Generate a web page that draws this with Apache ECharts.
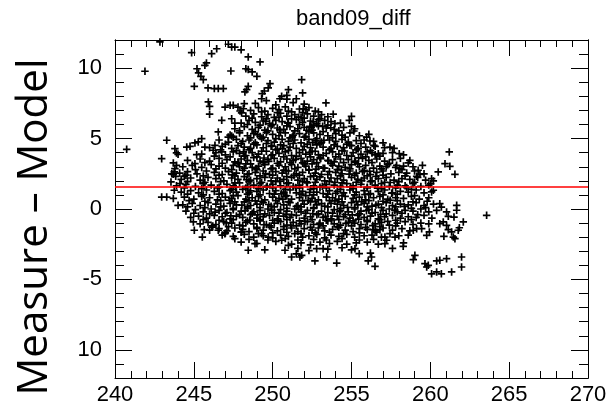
<!DOCTYPE html>
<html><head><meta charset="utf-8">
<script src="https://cdn.jsdelivr.net/npm/echarts@6/dist/echarts.min.js"></script>
<style>html,body{margin:0;padding:0;background:#fff}#c{width:613px;height:407px}</style>
</head><body><div id="c"></div>
<script>
const titleText = 'band09_diff';
const yName = 'Measure \u2013 Model';
const yTickValues = [-10, -5, 0, 5, 10];
const yTickLabels = ['10', '-5', '0', '5', '10'];
const refLine = 1.58;

const outliersUpperLeft = [[241.9,9.78],[240.74,4.24],[242.85,11.86],[244.86,11.1],[246.13,11.03],[246.45,11.38],[247.19,11.7],[247.4,11.5],[247.6,11.5],[248.0,11.3],[248.45,10.8],[249.2,10.44],[245.8,10.37],[245.7,10.2],[245.2,9.96],[245.3,9.66],[245.45,9.42],[245.6,9.18],[247.35,9.8],[248.3,9.96],[248.45,9.9],[248.7,9.73],[249.0,9.42],[251.84,9.18],[245.03,8.71],[245.9,8.6],[246.3,8.55],[246.55,8.55],[246.87,8.55],[248.45,8.71],[248.35,8.47],[248.24,8.31],[249.83,8.9],[249.72,8.6],[249.47,8.38],[249.34,8.19],[249.3,7.83],[251.0,8.47],[250.9,8.07],[250.57,8.0],[250.46,7.83],[251.5,7.83],[245.92,7.6],[246.0,7.29],[246.0,6.73],[246.98,7.24],[247.3,7.36],[247.5,7.36],[247.8,7.24],[247.93,6.96],[248.03,6.82],[248.2,7.48],[248.14,7.12],[246.77,6.3],[247.4,6.41],[247.6,6.1],[246.55,5.47],[247.18,5.11],[247.4,5.18],[243.28,4.88],[245.5,4.99],[245.28,4.76],[245.07,4.69],[245.7,4.4],[244.55,4.4],[244.76,4.45],[243.8,4.28],[243.9,3.98],[244.0,3.88],[242.96,3.57],[245.18,3.86],[245.07,3.22],[246.34,4.52],[246.23,4.17],[246.77,4.05],[243.7,3.27],[243.9,3.1],[243.8,2.86],[243.76,2.63],[243.6,2.5],[243.7,2.46],[243.85,2.32],[244.4,2.32],[243.55,1.92],[244.12,1.8],[243.76,1.33],[242.96,0.85],[243.28,0.85],[244.0,0.26]];

const outliersRight = [[251.9,8.24],[251.94,7.12],[252.11,7.05],[253.38,7.53],[252.9,6.89],[253.0,6.41],[253.17,5.87],[253.84,6.73],[253.95,6.06],[253.68,5.77],[255.0,6.58],[254.86,6.3],[255.0,5.87],[255.15,5.54],[252.57,6.18],[252.36,5.87],[252.16,5.59],[254.9,4.52],[255.43,4.28],[255.96,5.11],[256.17,4.83],[256.42,4.52],[256.7,3.93],[257.44,4.4],[258.03,3.93],[258.6,3.27],[257.86,3.1],[258.07,2.86],[261.2,4.05],[260.93,3.22],[261.24,3.03],[261.56,2.46],[260.5,2.63],[259.23,2.75],[259.34,2.46],[259.13,2.32],[260.08,2.15],[260.19,1.99],[260.02,1.8],[260.08,1.21],[260.19,1.33],[260.6,0.38],[260.7,0.14],[261.67,0.26],[261.67,-0.09],[261.03,-0.21],[261.14,-0.52],[261.5,-0.57],[262.09,-0.92],[261.84,-1.33],[261.77,-1.51],[263.57,-0.45],[260.82,-0.92],[260.6,-1.04],[261.03,-1.16],[261.14,-1.47],[261.35,-1.63],[261.46,-1.99],[261.56,-2.11],[260.86,-1.94],[259.77,-1.87],[259.94,-1.63],[258.92,-1.51],[259.13,-1.4],[259.45,-1.4],[257.76,-1.99],[257.44,-1.75],[257.23,-2.22],[257.12,-2.46],[258.28,-2.65],[259.02,-3.29],[258.92,-3.6],[259.66,-3.88],[259.87,-4.0],[259.77,-4.12],[260.4,-3.69],[260.6,-3.64],[261.03,-3.53],[261.98,-3.41],[261.98,-4.12],[260.08,-4.6],[260.4,-4.47],[260.7,-4.6],[261.35,-4.47],[256.2,-3.13],[256.27,-3.41],[256.49,-4.07],[256.06,-3.69],[255.49,-3.17],[255.22,-2.82],[254.06,-3.84],[253.43,-3.41],[252.68,-3.69],[252.79,-2.82],[253.2,-2.82],[251.84,-3.29],[257.12,-1.99],[256.8,-1.47],[256.38,-1.47]];

const outliersLowerLeft = [[244.97,-0.92],[245.03,-1.51],[245.54,-1.99],[245.66,-1.47],[246.13,-1.28],[246.55,-1.51],[246.97,-1.75],[247.6,-2.11],[248.03,-1.63],[248.45,-2.93],[248.88,-2.46],[249.3,-1.75],[249.72,-1.99],[250.57,-2.22],[251.0,-2.58],[251.2,-3.41],[251.5,-3.18],[251.73,-3.41],[250.78,-2.93]];

const coreUpper = [
[248.9,7.5],[249.6,7.7],[250.2,7.4],[250.9,7.8],[251.3,7.55],[252.0,7.45],
[248.6,7.0],[249.1,7.2],[249.5,6.95],[250.0,7.15],[250.4,7.05],[250.8,7.25],[251.2,6.9],[251.7,7.1],[252.3,7.2],[252.7,6.95],
[248.3,6.6],[248.8,6.75],[249.3,6.55],[249.7,6.7],[250.1,6.5],[250.5,6.8],[250.9,6.6],[251.4,6.7],[251.8,6.5],[252.2,6.75],[252.6,6.6],[253.1,6.7],[253.5,6.55],
[248.0,6.1],[248.5,6.3],[248.9,6.15],[249.4,6.25],[249.8,6.05],[250.2,6.3],[250.6,6.2],[251.0,6.1],[251.5,6.35],[251.9,6.15],[252.4,6.25],[252.8,6.05],[253.3,6.3],[253.7,6.2],[254.3,6.1],
[247.6,5.7],[248.2,5.85],[248.7,5.65],[249.1,5.8],[249.5,5.6],[249.9,5.9],[250.3,5.75],[250.7,5.65],[251.1,5.85],[251.6,5.7],[252.0,5.8],[252.5,5.6],[252.9,5.9],[253.4,5.75],[253.9,5.65],[254.5,5.8],[255.2,5.7],
[247.3,5.25],[247.9,5.4],[248.4,5.2],[248.8,5.35],[249.2,5.15],[249.6,5.45],[250.0,5.3],[250.4,5.2],[250.8,5.4],[251.3,5.25],[251.7,5.35],[252.1,5.15],[252.6,5.4],[253.0,5.3],[253.5,5.2],[254.0,5.35],[254.4,5.25],[254.9,5.4],[255.5,5.2],[256.1,5.3],
[246.6,4.9],[247.2,4.75],[247.7,4.95],[248.1,4.8],[248.5,4.9],[248.9,4.7],[249.3,5.0],[249.7,4.85],[250.1,4.75],[250.6,4.95],[251.0,4.8],[251.4,4.9],[251.8,4.7],[252.3,4.95],[252.7,4.85],[253.1,4.75],[253.6,4.9],[254.0,4.8],[254.4,4.95],[254.8,4.75],[255.3,4.85],[255.8,4.9],[256.4,4.8],[257.0,4.7],
[246.0,4.35],[246.8,4.45],[247.4,4.3],[247.8,4.5],[248.2,4.4],[248.6,4.3],[249.0,4.55],[249.4,4.35],[249.9,4.45],[250.3,4.25],[250.7,4.5],[251.1,4.4],[251.5,4.3],[252.0,4.45],[252.4,4.35],[252.8,4.55],[253.2,4.4],[253.7,4.3],[254.1,4.45],[254.5,4.35],[255.0,4.5],[255.4,4.3],[255.9,4.4],[256.5,4.45],[257.1,4.35],[257.7,4.3],
[245.5,3.9],[246.4,4.0],[247.0,3.85],[247.5,4.05],[247.9,3.95],[248.3,3.8],[248.7,4.0],[249.1,3.9],[249.6,4.1],[250.0,3.85],[250.4,3.95],[250.8,4.05],[251.2,3.8],[251.7,4.0],[252.1,3.9],[252.5,4.1],[252.9,3.85],[253.4,3.95],[253.8,4.05],[254.2,3.9],[254.7,3.8],[255.1,4.0],[255.6,3.9],[256.0,4.05],[256.5,3.85],[257.0,3.95],[257.6,4.0],[258.3,3.85]
];

const coreMiddle = [
[244.6,3.45],[245.4,3.55],[246.0,3.4],[246.6,3.6],[247.1,3.5],[247.6,3.35],[248.0,3.55],[248.4,3.45],[248.8,3.65],[249.2,3.4],[249.7,3.5],[250.1,3.6],[250.5,3.35],[250.9,3.55],[251.3,3.45],[251.8,3.6],[252.2,3.4],[252.6,3.5],[253.0,3.65],[253.5,3.45],[253.9,3.35],[254.3,3.55],[254.8,3.5],[255.2,3.4],[255.7,3.6],[256.1,3.45],[256.6,3.55],[257.1,3.4],[257.6,3.5],[258.1,3.6],[258.7,3.45],
[244.3,3.0],[244.9,3.1],[245.5,2.95],[246.1,3.15],[246.6,3.05],[247.0,2.9],[247.5,3.1],[247.9,3.0],[248.3,3.2],[248.7,2.95],[249.1,3.05],[249.5,3.15],[250.0,2.9],[250.4,3.1],[250.8,3.0],[251.2,3.15],[251.6,2.95],[252.1,3.05],[252.5,3.2],[252.9,3.0],[253.3,2.9],[253.8,3.1],[254.2,3.05],[254.6,2.95],[255.0,3.15],[255.5,3.0],[255.9,3.1],[256.4,2.9],[256.8,3.05],[257.3,3.15],[257.8,2.95],[258.3,3.05],[258.9,3.0],[259.5,3.1],
[244.1,2.55],[244.6,2.65],[245.2,2.5],[245.8,2.7],[246.3,2.6],[246.8,2.45],[247.2,2.65],[247.7,2.55],[248.1,2.75],[248.5,2.5],[248.9,2.6],[249.4,2.7],[249.8,2.45],[250.2,2.65],[250.6,2.55],[251.0,2.7],[251.5,2.5],[251.9,2.6],[252.3,2.75],[252.7,2.55],[253.1,2.45],[253.6,2.65],[254.0,2.6],[254.4,2.5],[254.9,2.7],[255.3,2.55],[255.7,2.65],[256.2,2.45],[256.6,2.6],[257.0,2.7],[257.5,2.5],[258.0,2.6],[258.5,2.55],[259.0,2.7],[259.6,2.5],
[244.2,2.1],[244.8,2.2],[245.4,2.05],[245.9,2.25],[246.4,2.15],[246.9,2.0],[247.4,2.2],[247.8,2.1],[248.2,2.3],[248.6,2.05],[249.0,2.15],[249.5,2.25],[249.9,2.0],[250.3,2.2],[250.7,2.1],[251.2,2.25],[251.6,2.05],[252.0,2.15],[252.4,2.3],[252.8,2.1],[253.3,2.0],[253.7,2.2],[254.1,2.15],[254.5,2.05],[255.0,2.25],[255.4,2.1],[255.8,2.2],[256.3,2.0],[256.7,2.15],[257.2,2.25],[257.7,2.05],[258.2,2.15],[258.7,2.1],[259.2,2.25],[259.7,2.05],
[243.9,1.65],[244.5,1.75],[245.1,1.6],[245.6,1.8],[246.1,1.7],[246.6,1.55],[247.1,1.75],[247.5,1.65],[247.9,1.85],[248.4,1.6],[248.8,1.7],[249.2,1.8],[249.6,1.55],[250.0,1.75],[250.5,1.65],[250.9,1.8],[251.3,1.6],[251.7,1.7],[252.2,1.85],[252.6,1.65],[253.0,1.55],[253.4,1.75],[253.9,1.7],[254.3,1.6],[254.7,1.8],[255.1,1.65],[255.6,1.75],[256.0,1.55],[256.5,1.7],[256.9,1.8],[257.4,1.6],[257.9,1.7],[258.4,1.65],[258.9,1.8],[259.4,1.6],[259.9,1.7],
[244.2,1.2],[244.8,1.3],[245.3,1.15],[245.8,1.35],[246.3,1.25],[246.8,1.1],[247.3,1.3],[247.7,1.2],[248.1,1.4],[248.5,1.15],[249.0,1.25],[249.4,1.35],[249.8,1.1],[250.2,1.3],[250.7,1.2],[251.1,1.35],[251.5,1.15],[251.9,1.25],[252.4,1.4],[252.8,1.2],[253.2,1.1],[253.6,1.3],[254.1,1.25],[254.5,1.15],[254.9,1.35],[255.3,1.2],[255.8,1.3],[256.2,1.1],[256.7,1.25],[257.1,1.35],[257.6,1.15],[258.1,1.25],[258.6,1.2],[259.1,1.35],[259.6,1.15],
[243.7,0.75],[244.4,0.85],[245.0,0.7],[245.5,0.9],[246.0,0.8],[246.5,0.65],[247.0,0.85],[247.4,0.75],[247.8,0.95],[248.3,0.7],[248.7,0.8],[249.1,0.9],[249.5,0.65],[250.0,0.85],[250.4,0.75],[250.8,0.9],[251.2,0.7],[251.7,0.8],[252.1,0.95],[252.5,0.75],[252.9,0.65],[253.4,0.85],[253.8,0.8],[254.2,0.7],[254.6,0.9],[255.1,0.75],[255.5,0.85],[255.9,0.65],[256.4,0.8],[256.8,0.9],[257.3,0.7],[257.8,0.8],[258.3,0.75],[258.8,0.9],[259.3,0.7],[259.9,0.8]
];

const coreLower = [
[244.3,0.3],[244.9,0.4],[245.4,0.25],[245.9,0.45],[246.4,0.35],[246.9,0.2],[247.3,0.4],[247.7,0.3],[248.2,0.5],[248.6,0.25],[249.0,0.35],[249.4,0.45],[249.9,0.2],[250.3,0.4],[250.7,0.3],[251.1,0.45],[251.6,0.25],[252.0,0.35],[252.4,0.5],[252.8,0.3],[253.3,0.2],[253.7,0.4],[254.1,0.35],[254.5,0.25],[255.0,0.45],[255.4,0.3],[255.8,0.4],[256.3,0.2],[256.7,0.35],[257.2,0.45],[257.6,0.25],[258.1,0.35],[258.6,0.3],[259.1,0.45],[259.6,0.25],[260.2,0.35],
[244.5,-0.15],[245.1,-0.05],[245.6,-0.2],[246.1,0.0],[246.6,-0.1],[247.1,-0.25],[247.5,-0.05],[248.0,-0.15],[248.4,0.05],[248.8,-0.2],[249.2,-0.1],[249.7,0.0],[250.1,-0.25],[250.5,-0.05],[250.9,-0.15],[251.4,0.0],[251.8,-0.2],[252.2,-0.1],[252.6,0.05],[253.1,-0.15],[253.5,-0.25],[253.9,-0.05],[254.3,-0.1],[254.8,-0.2],[255.2,0.0],[255.6,-0.15],[256.1,-0.05],[256.5,-0.25],[257.0,-0.1],[257.4,0.0],[257.9,-0.2],[258.4,-0.1],[258.9,-0.15],[259.4,0.0],[259.9,-0.2],[260.4,-0.1],
[244.8,-0.6],[245.3,-0.5],[245.8,-0.65],[246.3,-0.45],[246.8,-0.55],[247.3,-0.7],[247.7,-0.5],[248.1,-0.6],[248.6,-0.4],[249.0,-0.65],[249.4,-0.55],[249.8,-0.45],[250.3,-0.7],[250.7,-0.5],[251.1,-0.6],[251.5,-0.45],[252.0,-0.65],[252.4,-0.55],[252.8,-0.4],[253.2,-0.6],[253.7,-0.7],[254.1,-0.5],[254.5,-0.55],[254.9,-0.65],[255.4,-0.45],[255.8,-0.6],[256.2,-0.5],[256.7,-0.7],[257.1,-0.55],[257.6,-0.45],[258.1,-0.65],[258.6,-0.55],[259.1,-0.6],[259.6,-0.45],[260.1,-0.65],
[245.4,-1.05],[245.9,-0.95],[246.4,-1.1],[246.9,-0.9],[247.4,-1.0],[247.9,-1.15],[248.3,-0.95],[248.8,-1.05],[249.2,-0.85],[249.6,-1.1],[250.1,-1.0],[250.5,-0.9],[250.9,-1.15],[251.3,-0.95],[251.8,-1.05],[252.2,-0.9],[252.6,-1.1],[253.0,-1.0],[253.5,-0.85],[253.9,-1.05],[254.3,-1.15],[254.8,-0.95],[255.2,-1.0],[255.6,-1.1],[256.0,-0.9],[256.5,-1.05],[256.9,-0.95],[257.4,-1.15],[257.9,-1.0],[258.4,-0.9],[258.9,-1.1],[259.4,-1.0],[259.9,-1.05],
[246.0,-1.5],[246.6,-1.4],[247.1,-1.55],[247.6,-1.35],[248.1,-1.45],[248.5,-1.6],[249.0,-1.4],[249.4,-1.5],[249.9,-1.3],[250.3,-1.55],[250.7,-1.45],[251.2,-1.35],[251.6,-1.6],[252.0,-1.4],[252.5,-1.5],[252.9,-1.35],[253.3,-1.55],[253.8,-1.45],[254.2,-1.3],[254.6,-1.5],[255.1,-1.6],[255.5,-1.4],[256.0,-1.45],[256.5,-1.55],[257.0,-1.35],[257.6,-1.5],[258.2,-1.4],[258.7,-1.55],
[246.8,-1.85],[247.5,-1.95],[248.2,-1.8],[248.8,-2.0],[249.4,-1.9],[250.0,-2.05],[250.5,-1.85],[251.0,-1.95],[251.4,-1.75],[251.9,-2.0],[252.3,-1.9],[252.8,-1.8],[253.3,-2.05],[253.7,-1.85],[254.2,-1.95],[254.7,-1.8],[255.2,-2.0],[255.8,-1.9],[256.3,-1.85],[256.9,-2.0],[258.0,-1.9],[258.6,-1.85],
[248.0,-2.35],[249.0,-2.45],[250.2,-2.3],[251.2,-2.5],[251.8,-2.4],[252.4,-2.55],[253.0,-2.35],[253.6,-2.45],[254.1,-2.3],[254.7,-2.5],[255.3,-2.4],[256.0,-2.35],[256.7,-2.5],[258.3,-2.4],
[249.5,-2.9],[251.6,-2.8],[252.3,-2.95],[253.5,-2.85],[254.4,-2.75],[255.0,-2.9],[257.6,-2.8]
];

const coreFill = [
[249.3,6.9],[250.3,6.85],[251.0,6.95],[251.9,6.85],
[248.7,6.45],[249.6,6.4],[250.4,6.5],[251.2,6.4],[252.0,6.45],[252.9,6.35],
[248.4,6.0],[249.2,5.95],[250.0,6.0],[250.9,5.9],[251.7,6.0],[252.6,5.95],[253.5,5.95],
[247.9,5.55],[248.9,5.5],[249.7,5.55],[250.5,5.45],[251.4,5.55],[252.3,5.5],[253.2,5.5],[254.2,5.55],
[247.5,5.1],[248.6,5.05],[249.4,5.1],[250.2,5.0],[251.1,5.05],[252.0,5.1],[252.8,5.0],[253.8,5.05],[254.6,5.1],
[247.0,4.6],[248.0,4.65],[248.8,4.6],[249.6,4.65],[250.5,4.55],[251.3,4.65],[252.2,4.6],[253.0,4.65],[253.9,4.55],[254.7,4.6],[255.6,4.65],
[246.7,4.2],[247.7,4.15],[248.5,4.2],[249.3,4.1],[250.2,4.2],[251.0,4.15],[251.9,4.2],[252.7,4.1],[253.6,4.2],[254.4,4.15],[255.3,4.2],[256.2,4.15],
[246.3,3.75],[247.3,3.7],[248.2,3.75],[249.0,3.7],[249.9,3.8],[250.7,3.7],[251.5,3.75],[252.4,3.7],[253.2,3.8],[254.0,3.7],[255.0,3.75],[255.9,3.7],[256.8,3.75],
[245.7,3.3],[246.8,3.25],[247.8,3.3],[248.6,3.2],[249.4,3.3],[250.3,3.25],[251.1,3.3],[252.0,3.2],[252.8,3.3],[253.7,3.25],[254.5,3.3],[255.4,3.2],[256.3,3.3],[257.4,3.25],
[245.1,2.8],[246.4,2.85],[247.4,2.8],[248.2,2.9],[249.0,2.8],[249.9,2.85],[250.7,2.75],[251.4,2.85],[252.3,2.8],[253.2,2.9],[254.1,2.8],[254.9,2.85],[255.8,2.75],[256.9,2.85],[258.2,2.8],
[244.5,2.4],[245.6,2.35],[246.6,2.4],[247.6,2.35],[248.4,2.45],[249.2,2.35],[250.0,2.4],[250.9,2.3],[251.7,2.4],[252.6,2.35],[253.5,2.45],[254.3,2.35],[255.2,2.4],[256.0,2.35],[257.0,2.4],[258.4,2.35],
[244.6,1.95],[245.7,1.9],[246.7,1.95],[247.6,1.85],[248.5,1.95],[249.3,1.9],[250.2,1.95],[251.0,1.85],[251.9,1.95],[252.7,1.9],[253.6,1.95],[254.4,1.85],[255.3,1.9],[256.2,1.95],[257.1,1.9],[258.0,1.95],[259.0,1.9],
[244.4,1.5],[245.5,1.45],[246.5,1.5],[247.4,1.4],[248.3,1.5],[249.1,1.45],[250.0,1.5],[250.8,1.4],[251.7,1.5],[252.6,1.45],[253.4,1.5],[254.3,1.4],[255.1,1.45],[256.0,1.5],[256.9,1.45],[257.8,1.5],[258.8,1.4],
[244.6,1.05],[245.6,1.0],[246.6,1.05],[247.5,0.95],[248.4,1.05],[249.2,1.0],[250.1,1.05],[250.9,0.95],[251.8,1.05],[252.6,1.0],[253.5,1.05],[254.4,0.95],[255.2,1.0],[256.1,1.05],[257.0,1.0],[257.9,1.05],[259.0,0.95],
[244.7,0.6],[245.7,0.55],[246.7,0.6],[247.6,0.5],[248.5,0.6],[249.3,0.55],[250.2,0.6],[251.0,0.5],[251.9,0.6],[252.7,0.55],[253.6,0.6],[254.4,0.5],[255.3,0.55],[256.1,0.6],[257.0,0.55],[257.9,0.6],[258.9,0.5],[259.8,0.55],
[244.6,0.15],[245.7,0.1],[246.7,0.15],[247.5,0.05],[248.4,0.15],[249.2,0.1],[250.1,0.15],[250.9,0.05],[251.8,0.15],[252.6,0.1],[253.5,0.15],[254.3,0.05],[255.2,0.1],[256.0,0.15],[256.9,0.1],[257.8,0.15],[258.8,0.05],[259.7,0.1],
[245.0,-0.3],[246.0,-0.35],[247.0,-0.3],[247.9,-0.4],[248.7,-0.3],[249.5,-0.35],[250.4,-0.3],[251.2,-0.4],[252.1,-0.3],[252.9,-0.35],[253.8,-0.3],[254.6,-0.4],[255.5,-0.35],[256.3,-0.3],[257.2,-0.35],[258.2,-0.3],[259.2,-0.4],
[245.6,-0.75],[246.6,-0.8],[247.5,-0.75],[248.4,-0.85],[249.2,-0.75],[250.0,-0.8],[250.9,-0.75],[251.7,-0.85],[252.5,-0.75],[253.4,-0.8],[254.2,-0.75],[255.1,-0.85],[256.0,-0.8],[256.8,-0.75],[257.8,-0.8],[258.8,-0.75],
[246.2,-1.2],[247.2,-1.25],[248.1,-1.2],[249.0,-1.3],[249.8,-1.2],[250.7,-1.25],[251.5,-1.2],[252.4,-1.3],[253.2,-1.2],[254.1,-1.25],[255.0,-1.2],[255.9,-1.3],[256.8,-1.25],[257.8,-1.2],
[247.0,-1.7],[248.0,-1.65],[249.1,-1.75],[250.0,-1.7],[250.9,-1.65],[251.8,-1.75],[252.7,-1.7],[253.6,-1.65],[254.5,-1.75],[255.5,-1.7],[256.6,-1.65],
[248.5,-2.15],[249.7,-2.2],[250.8,-2.1],[251.6,-2.2],[252.6,-2.15],[253.4,-2.2],[254.4,-2.1],[255.5,-2.2],[256.4,-2.15]
];

const coreFillDense = [
[248.15,4.05],[249.45,3.62],[250.62,4.28],[251.45,3.52],[252.35,4.02],[253.05,3.58],[254.55,4.12],[255.45,3.63],[256.3,3.98],
[247.85,3.22],[248.95,2.88],[249.75,3.38],[250.85,2.72],[251.9,3.28],[252.75,2.83],[253.55,3.42],[254.35,2.77],[255.25,3.33],[256.15,2.68],[257.2,3.0],
[247.45,2.42],[248.35,2.08],[249.55,2.52],[250.45,1.98],[251.35,2.38],[252.15,1.92],[253.0,2.28],[253.95,1.88],[254.85,2.48],[255.65,2.02],[256.55,2.32],[257.45,1.88],
[247.65,1.55],[248.6,1.28],[249.65,1.62],[250.55,1.08],[251.45,1.52],[252.35,1.18],[253.15,1.62],[254.0,1.12],[254.95,1.58],[255.85,1.02],[256.65,1.48],[257.55,1.12],[258.5,1.52],
[247.25,0.62],[248.05,0.28],[248.9,0.58],[249.75,0.32],[250.65,0.68],[251.5,0.18],[252.25,0.62],[253.1,0.38],[253.95,0.58],[254.75,0.12],[255.65,0.52],[256.55,0.28],[257.45,0.62],[258.35,0.18],
[246.35,-0.22],[247.35,-0.48],[248.25,-0.12],[249.05,-0.42],[249.95,-0.08],[250.85,-0.38],[251.65,-0.02],[252.55,-0.32],[253.35,-0.52],[254.25,-0.18],[255.05,-0.42],[255.95,-0.12],[256.85,-0.38],[257.75,-0.08],
[247.05,-0.98],[248.55,-0.78],[249.45,-1.12],[250.35,-0.82],[251.15,-1.18],[252.05,-0.88],[252.95,-1.08],[253.75,-0.78],[254.65,-1.02],[255.45,-0.72],[256.35,-1.18],[257.3,-0.88],
[249.55,6.22],[250.45,5.62],[251.65,6.52],[251.25,5.12],[252.45,5.82],[249.95,4.48],[252.55,4.72],[250.95,6.12],[249.05,5.28],[253.25,4.88]
];

const points = [].concat(outliersUpperLeft, outliersRight, outliersLowerLeft, coreUpper, coreMiddle, coreLower, coreFill, coreFillDense);

const FONT = 'Liberation Sans, Arial, Helvetica, sans-serif';
const plusPath = 'path://M0,5L10,5M5,0L5,10';
const blackLine = {show: true, onZero: false, lineStyle: {color: '#000', width: 1}};

function xAx(pos, showLabel) {
  return {
    type: 'value', min: 240, max: 270, interval: 5, position: pos,
    axisLine: blackLine,
    axisTick: {show: true, inside: true, length: 16, lineStyle: {color: '#000', width: 1}},
    minorTick: {show: true, splitNumber: 5, length: 7, lineStyle: {color: '#000', width: 1}},
    axisLabel: {show: showLabel, margin: 6, fontFamily: FONT, fontSize: 22, color: '#000'},
    splitLine: {show: false}, minorSplitLine: {show: false}
  };
}
function yMajor(pos, showLabel) {
  return {
    type: 'value', min: -12, max: 12, position: pos,
    axisLine: blackLine,
    axisTick: {show: true, inside: true, length: 17, customValues: yTickValues, lineStyle: {color: '#000', width: 1}},
    axisLabel: {show: showLabel, customValues: yTickValues, margin: 13, fontFamily: FONT, fontSize: 22, color: '#000',
      formatter: function (v) { const i = yTickValues.indexOf(v); return i >= 0 ? yTickLabels[i] : ''; }},
    splitLine: {show: false}
  };
}
function yMinor(pos) {
  return {
    type: 'value', min: -12, max: 12, interval: 1, position: pos,
    axisLine: blackLine,
    axisTick: {show: true, inside: true, length: 9, lineStyle: {color: '#000', width: 1}},
    axisLabel: {show: false},
    splitLine: {show: false}
  };
}

const chart = echarts.init(document.getElementById('c'), null, {renderer: 'canvas'});
chart.setOption({
  animation: false,
  backgroundColor: '#fff',
  title: {text: titleText, left: 296, top: 8, padding: 0,
    textStyle: {fontFamily: FONT, fontSize: 22, fontWeight: 'normal', color: '#000'}},
  grid: {left: 115, right: 25, top: 40, bottom: 29, outerBoundsMode: 'none'},
  xAxis: [xAx('bottom', true), xAx('top', false)],
  yAxis: [yMajor('left', true), yMinor('left'), yMajor('right', false), yMinor('right')],
  graphic: [{
    type: 'text', x: 35, y: 227, rotation: Math.PI / 2,
    style: {text: yName, font: '42px "Open Sans"', fill: '#000', textAlign: 'center', textVerticalAlign: 'middle'}
  }],
  series: [{
    type: 'scatter', xAxisIndex: 0, yAxisIndex: 0,
    data: points,
    symbol: plusPath, symbolSize: 7.5,
    itemStyle: {color: 'transparent', borderColor: '#000', borderWidth: 1.7, opacity: 1},
    emphasis: {disabled: true},
    markLine: {
      silent: true, symbol: ['none', 'none'], label: {show: false},
      lineStyle: {color: '#ff0000', width: 1.6, type: 'solid'},
      data: [{yAxis: refLine}]
    }
  }]
});
</script>
</body></html>
